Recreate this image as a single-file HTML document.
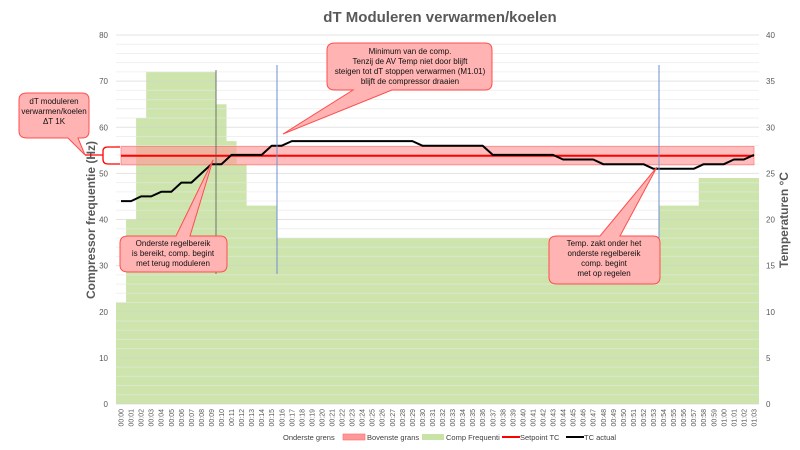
<!DOCTYPE html>
<html><head><meta charset="utf-8"><style>
html,body{margin:0;padding:0;background:#fff;}
svg{display:block;font-family:"Liberation Sans",sans-serif;}
</style></head><body>
<svg width="800" height="450" viewBox="0 0 800 450" xmlns="http://www.w3.org/2000/svg">
<rect width="800" height="450" fill="#fff"/>
<text x="440" y="22" text-anchor="middle" font-size="15" font-weight="bold" fill="#595959">dT Moduleren verwarmen/koelen</text>
<g id="bars"></g>
<g id="grid"></g>
<rect x="121" y="146.5" width="633" height="18.4" fill="#ff9999" fill-opacity="0.65" stroke="#ff6666" stroke-width="0.6"/>
<line x1="121" y1="155.7" x2="754" y2="155.7" stroke="#ff0000" stroke-width="2"/>
<polyline id="tc" fill="none" stroke="#000" stroke-width="2" stroke-linejoin="round"/>
<line x1="216" y1="70" x2="216" y2="274" stroke="#555" stroke-width="0.8"/>
<line x1="277" y1="65" x2="277" y2="274" stroke="#6f8fcf" stroke-width="1"/>
<line x1="659" y1="65" x2="659" y2="274" stroke="#6f8fcf" stroke-width="1"/>
<g id="yl" font-size="8" fill="#595959"></g>
<g id="xl" font-size="7" fill="#595959"></g>
<text transform="translate(95,220) rotate(-90)" text-anchor="middle" font-size="12" font-weight="bold" fill="#595959">Compressor frequentie (Hz)</text>
<text transform="translate(788,220) rotate(-90)" text-anchor="middle" font-size="12" font-weight="bold" fill="#595959">Temperaturen °C</text>
<g stroke="#ff4d4d" stroke-width="1" fill="#ffb3b3">
<path d="M335,43 H485 Q492,43 492,50 V83 Q492,90 485,90 H392 L283,134 L353,90 H335 Q327,90 327,83 V50 Q327,43 335,43 Z"/>
<path d="M27,93 H82 Q89,93 89,100 V131 Q89,138 82,138 H78 L85,155 L68,138 H27 Q19,138 19,131 V100 Q19,93 27,93 Z"/>
<path d="M128,236 H176 L213,160 L190,236 H220 Q227,236 227,243 V265 Q227,272 220,272 H128 Q120,272 120,265 V243 Q120,236 128,236 Z"/>
<path d="M557,236 H600 L657,167 L620,236 H653 Q660,236 660,243 V277 Q660,284 653,284 H557 Q549,284 549,277 V243 Q549,236 557,236 Z"/>
</g>
<path d="M85,155 H95 M120,147 H108 Q103,147 103,151 V159 Q103,164 108,164 H120 M95,155 L103,155" fill="none" stroke="#ff0000" stroke-width="1.3"/>
<g font-size="8" fill="#111" text-anchor="middle">
<text x="410" y="54">Minimum van de comp.</text>
<text x="410" y="64">Tenzij de AV Temp niet door blijft</text>
<text x="410" y="74">steigen tot dT stoppen verwarmen (M1.01)</text>
<text x="410" y="84">blijft de compressor draaien</text>
<text x="54" y="104">dT moduleren</text>
<text x="54" y="114">verwarmen/koelen</text>
<text x="54" y="124">ΔT 1K</text>
<text x="173" y="246">Onderste regelbereik</text>
<text x="173" y="256">is bereikt, comp. begint</text>
<text x="173" y="266">met terug moduleren</text>
<text x="604" y="246">Temp. zakt onder het</text>
<text x="604" y="256">onderste regelbereik</text>
<text x="604" y="266">comp. begint</text>
<text x="604" y="276">met op regelen</text>
</g>
<g font-size="7.5" fill="#404040">
<text x="283" y="440">Onderste grens</text>
<rect x="343" y="434" width="22" height="6" fill="#ff9999" stroke="#ff6666" stroke-width="0.6"/>
<text x="367" y="440">Bovenste grans</text>
<rect x="422" y="434" width="22" height="6" fill="#c9e3a6"/>
<text x="446" y="440">Comp Frequenti</text>
<line x1="502" y1="437" x2="520" y2="437" stroke="#f00" stroke-width="2"/>
<text x="520" y="440">Setpoint TC</text>
<line x1="566" y1="437" x2="584" y2="437" stroke="#000" stroke-width="2"/>
<text x="584" y="440">TC actual</text>
</g>
<script>
var ns="http://www.w3.org/2000/svg",x0=116,w=643/64;
function Y(h){return 404-h*4.6125;}
function el(p,t,a,txt){var e=document.createElementNS(ns,t);for(var k in a)e.setAttribute(k,a[k]);if(txt!=null)e.textContent=txt;document.getElementById(p).appendChild(e);}
for(var v=0;v<=80;v+=2){el("grid","line",{x1:116,x2:759,y1:Y(v),y2:Y(v),stroke:v%10?"#e6e6e6":"#d0d0d0","stroke-width":1,"stroke-opacity":0.6});}
for(var v=0;v<=80;v+=10){el("yl","text",{x:108,y:Y(v)+3,"text-anchor":"end"},v);el("yl","text",{x:766,y:Y(v)+3},v/2);}
var f=[22,40,62,72,72,72,72,72,72,72,65,57,52,43,43,43];
for(var i=16;i<=53;i++)f.push(36);for(i=54;i<=57;i++)f.push(43);for(i=58;i<=63;i++)f.push(49);
var d="M"+x0+",404";for(i=0;i<64;i++){d+=" L"+(x0+i*w)+","+Y(f[i])+" L"+(x0+(i+1)*w)+","+Y(f[i]);}d+=" L759,404 Z";
el("bars","path",{d:d,fill:"#cde5ac"});
var t=[22,22,22.5,22.5,23,23,24,24,25,26,26,27,27,27,27,28,28];
for(i=17;i<=29;i++)t.push(28.5);for(i=30;i<=36;i++)t.push(28);for(i=37;i<=43;i++)t.push(27);
for(i=44;i<=47;i++)t.push(26.5);for(i=48;i<=52;i++)t.push(26);for(i=53;i<=57;i++)t.push(25.5);
t.push(26,26,26,26.5,26.5,27);
var pts=[];for(i=0;i<64;i++)pts.push((x0+w/2+i*w).toFixed(1)+","+(404-t[i]*9.225).toFixed(1));
document.getElementById("tc").setAttribute("points",pts.join(" "));
for(i=0;i<64;i++){var h=Math.floor(i/60),m=i%60;var cx=x0+w/2+i*w+2.5;el("xl","text",{transform:"translate("+cx+",409) rotate(-90)","text-anchor":"end"},"0"+h+":"+(m<10?"0":"")+m);}
</script>
</svg>
</body></html>
